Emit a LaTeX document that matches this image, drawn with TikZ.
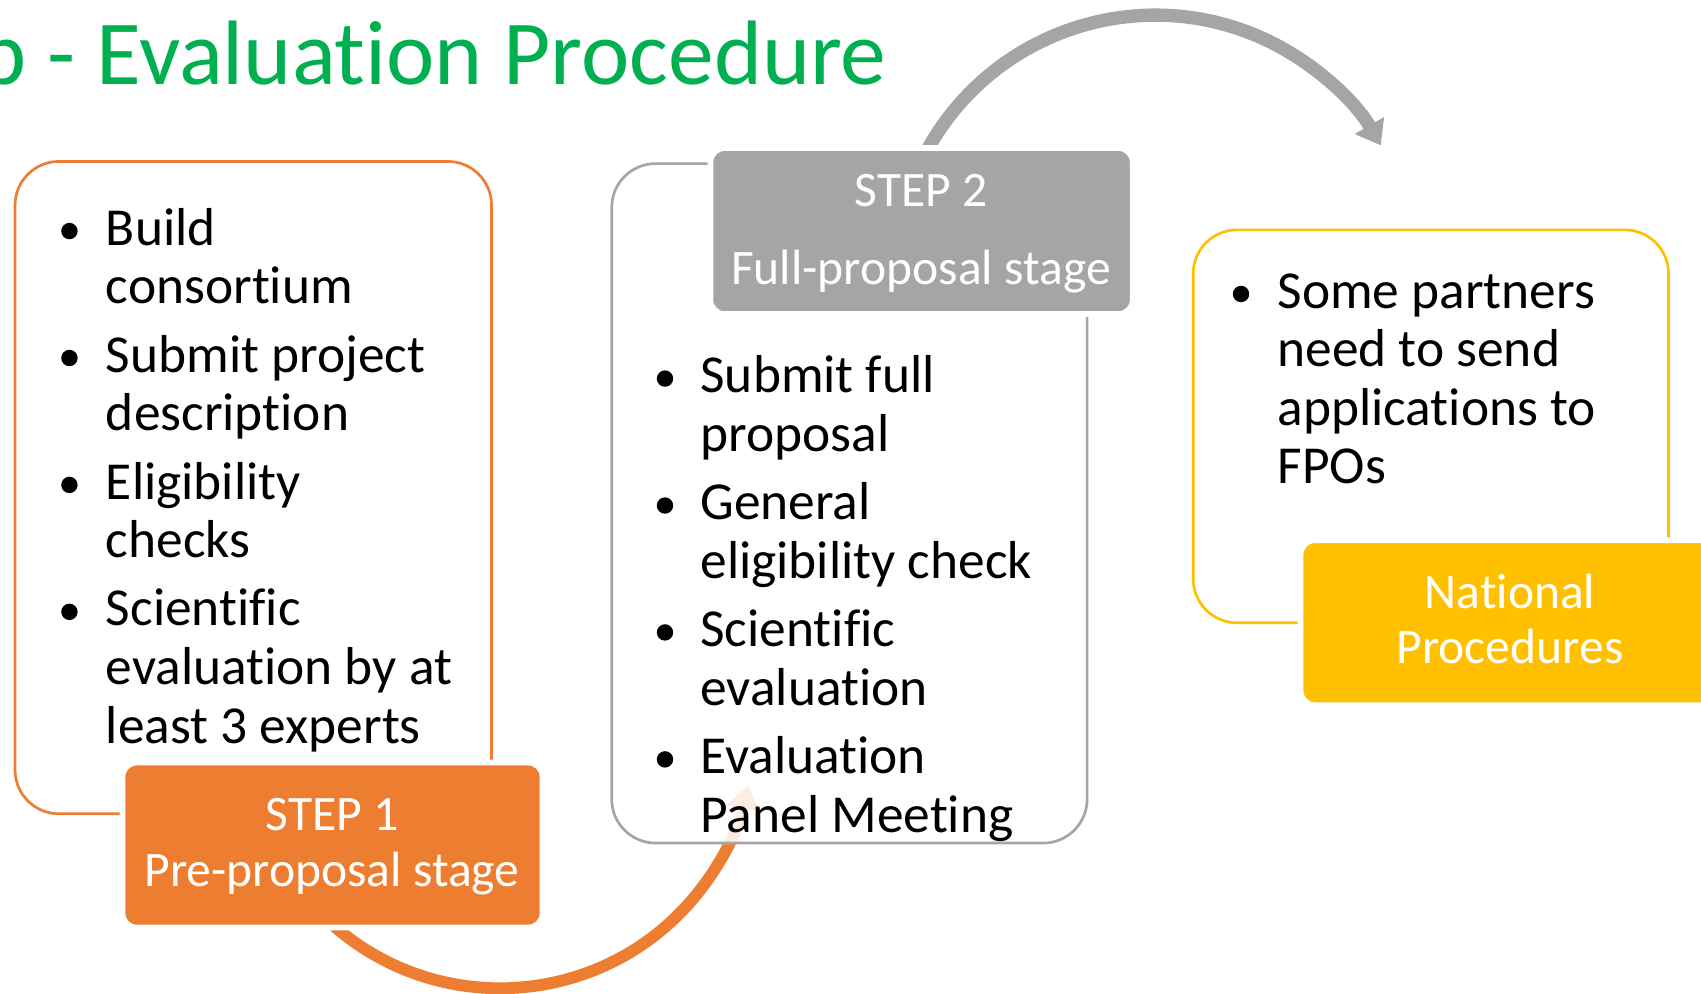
\documentclass[tikz,border=0pt]{standalone}
\usepackage{fontspec}
\setmainfont{Carlito}[Ligatures=CommonOff]
\usetikzlibrary{arrows.meta,calc}
\definecolor{cOrange}{HTML}{ED7D31}
\definecolor{cGray}{HTML}{A5A5A5}
\definecolor{cYellow}{HTML}{FFC000}
\definecolor{cGreen}{HTML}{00B050}
\begin{document}
\begin{tikzpicture}[x=0.01cm,y=-0.01cm,
  outline/.style={rectangle, rounded corners=11.5pt, line width=0.7pt, fill=white, inner sep=0},
  stepbox/.style={rectangle, rounded corners=3.7pt, draw=white, line width=1.5pt, inner sep=0},
  steptext/.style={text=white, font=\fontsize{13}{15}\selectfont, inner sep=0, anchor=base},
  bodytext/.style={font=\fontsize{14}{15.4}\selectfont, inner sep=0, anchor=base west},
  bullet/.style={circle, fill=black, inner sep=0, minimum size=4.3pt},
  arcarrow/.style={-{Triangle[length=6pt,width=8.5pt]}},
]
\useasboundingbox (0,0) rectangle (1568,916);

% title
\node[anchor=base east, text=cGreen, font=\fontsize{24}{28}\selectfont, inner sep=0] (title) at (818,78) {p - Evaluation Procedure};

% arc connectors
\coordinate (c1) at (461,678);
\coordinate (c2) at (1065,254);
\draw[cOrange, line width=3.1pt, arcarrow] ($(c1)+(131:233)$) arc[start angle=131, end angle=11.5, radius=233];
\draw[cGray, line width=3.5pt, arcarrow] ($(c2)+(209:240)$) arc[start angle=209, end angle=330, radius=240];

% boxes
\node[outline, draw=cOrange, minimum width=124.91pt, minimum height=171.0pt] (box1) at (233.5,449.5) {};
\node[stepbox, fill=cOrange, minimum width=110.1pt, minimum height=43.24pt] (step1) at (306.5,779) {};
\node[outline, draw=cGray, fill opacity=0.86, minimum width=124.61pt, minimum height=178.1pt] (box2) at (783,464) {};
\node[stepbox, fill=cGray, minimum width=110.7pt, minimum height=43.53pt] (step2) at (849.5,213) {};
\node[outline, draw=cYellow, minimum width=124.61pt, minimum height=103.0pt] (box3) at (1319,393) {};
\node[stepbox, fill=cYellow, minimum width=110.1pt, minimum height=43.24pt] (np) at (1392.5,574) {};

% step labels
\node[steptext] (s1a) at (306,766) {STEP 1};
\node[steptext] (s1b) at (306,817) {Pre-proposal stage};
\node[steptext] (s2a) at (849,190) {STEP 2};
\node[steptext] (s2b) at (849,262) {Full-proposal stage};
\node[steptext] (npa) at (1392,561) {National};
\node[steptext] (npb) at (1392,612) {Procedures};

% left list
\node[bullet] (lb1) at (64,213) {};
\node[bodytext] (l1) at (97,226) {Build};
\node[bodytext] (l2) at (97,280) {consortium};
\node[bullet] (lb2) at (64,330) {};
\node[bodytext] (l3) at (97,343) {Submit project};
\node[bodytext] (l4) at (97,397) {description};
\node[bullet] (lb3) at (64,447) {};
\node[bodytext] (l5) at (97,460) {Eligibility};
\node[bodytext] (l6) at (97,514) {checks};
\node[bullet] (lb4) at (64,564) {};
\node[bodytext] (l7) at (97,577) {Scientific};
\node[bodytext] (l8) at (97,631) {evaluation by at};
\node[bodytext] (l9) at (97,685) {least 3 experts};

% middle list
\node[bullet] (mb1) at (613,349) {};
\node[bodytext] (m1) at (645,362) {Submit full};
\node[bodytext] (m2) at (645,416) {proposal};
\node[bullet] (mb2) at (613,466) {};
\node[bodytext] (m3) at (645,479) {General};
\node[bodytext] (m4) at (645,533) {eligibility check};
\node[bullet] (mb3) at (613,583) {};
\node[bodytext] (m5) at (645,596) {Scientific};
\node[bodytext] (m6) at (645,650) {evaluation};
\node[bullet] (mb4) at (613,700) {};
\node[bodytext] (m7) at (645,713) {Evaluation};
\node[bodytext] (m8) at (645,767) {Panel Meeting};

% right list
\node[bullet] (rb1) at (1144,271) {};
\node[bodytext] (r1) at (1177,284) {Some partners};
\node[bodytext] (r2) at (1177,338) {need to send};
\node[bodytext] (r3) at (1177,392) {applications to};
\node[bodytext] (r4) at (1177,446) {FPOs};
\end{tikzpicture}
\end{document}
